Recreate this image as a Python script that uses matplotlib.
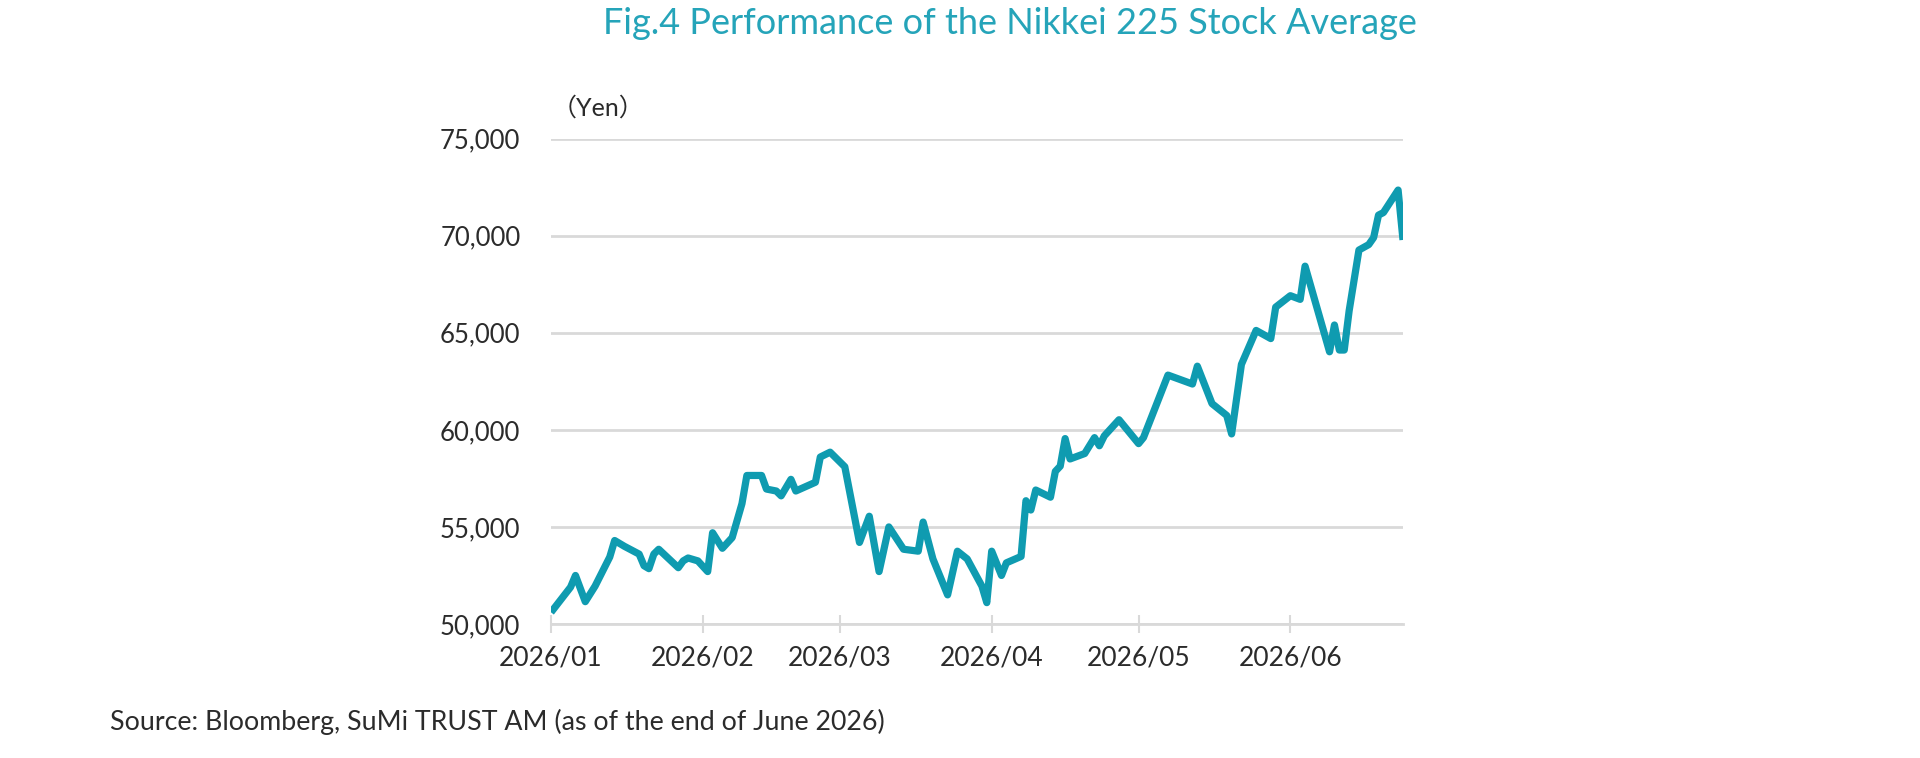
import matplotlib
matplotlib.use("Agg")
import matplotlib.pyplot as plt
import pandas as pd

plt.rcParams['font.family'] = ['Lato', 'Noto Sans CJK JP', 'DejaVu Sans']

# ---------------- data ----------------
dates = [
    "2026-01-01", "2026-01-05", "2026-01-06", "2026-01-08", "2026-01-10",
    "2026-01-13", "2026-01-14", "2026-01-16", "2026-01-19", "2026-01-20",
    "2026-01-21", "2026-01-22", "2026-01-23", "2026-01-27", "2026-01-28",
    "2026-01-29", "2026-01-31", "2026-02-02", "2026-02-03", "2026-02-05",
    "2026-02-07", "2026-02-09", "2026-02-10", "2026-02-13", "2026-02-14",
    "2026-02-16", "2026-02-17", "2026-02-19", "2026-02-20", "2026-02-24",
    "2026-02-25", "2026-02-27", "2026-03-02", "2026-03-05", "2026-03-07",
    "2026-03-09", "2026-03-11", "2026-03-14", "2026-03-17", "2026-03-18",
    "2026-03-20", "2026-03-23", "2026-03-25", "2026-03-27", "2026-03-30",
    "2026-03-31", "2026-04-01", "2026-04-03", "2026-04-04", "2026-04-07",
    "2026-04-08", "2026-04-09", "2026-04-10", "2026-04-13", "2026-04-14",
    "2026-04-15", "2026-04-16", "2026-04-17", "2026-04-20", "2026-04-22",
    "2026-04-23", "2026-04-24", "2026-04-27", "2026-05-01", "2026-05-02",
    "2026-05-07", "2026-05-12", "2026-05-13", "2026-05-16", "2026-05-19",
    "2026-05-20", "2026-05-22", "2026-05-25", "2026-05-28", "2026-05-29",
    "2026-06-01", "2026-06-03", "2026-06-04", "2026-06-09", "2026-06-10",
    "2026-06-11", "2026-06-12", "2026-06-13", "2026-06-15", "2026-06-17",
    "2026-06-18", "2026-06-19", "2026-06-20", "2026-06-23", "2026-06-24",
]
nikkei = [
    50600, 51900, 52500, 51150, 51950,
    53450, 54300, 54000, 53600, 53000,
    52850, 53600, 53850, 52900, 53250,
    53400, 53250, 52700, 54700, 53900,
    54450, 56200, 57650, 57650, 56950,
    56850, 56600, 57450, 56850, 57300,
    58600, 58850, 58100, 54200, 55550,
    52700, 55000, 53850, 53750, 55250,
    53350, 51500, 53750, 53350, 51950,
    51100, 53750, 52500, 53150, 53480,
    56350, 55870, 56900, 56530, 57860,
    58130, 59550, 58500, 58780, 59600,
    59180, 59690, 60520, 59290, 59600,
    62820, 62360, 63280, 61350, 60740,
    59790, 63370, 65120, 64700, 66320,
    66910, 66720, 68430, 64020, 65400,
    64110, 64110, 66130, 69260, 69540,
    69900, 71060, 71190, 72350, 69780,
]
x_tick_dates = ["2026-01-01", "2026-02-01", "2026-03-01",
                "2026-04-01", "2026-05-01", "2026-06-01"]
x_tick_labels = ["2026/01", "2026/02", "2026/03", "2026/04", "2026/05", "2026/06"]
y_ticks = [50000, 55000, 60000, 65000, 70000, 75000]
x_range = ["2026-01-01", "2026-06-24"]

title_text = "Fig.4 Performance of the Nikkei 225 Stock Average"
unit_text = "（Yen）"
source_text = "Source: Bloomberg, SuMi TRUST AM (as of the end of June 2026)"

# ---------------- style ----------------
LINE_COLOR = "#0f9bb0"
TITLE_COLOR = "#25a4b9"
GRID_COLOR = "#d9d9d9"
TEXT_COLOR = "#2b2b2b"

W, H = 1920, 758
fig = plt.figure(figsize=(W / 100, H / 100), dpi=100)
left, right, top, bottom = 551, 1403, 138.6, 624
ax = fig.add_axes([left / W, 1 - bottom / H, (right - left) / W, (bottom - top) / H])

ax.plot(pd.to_datetime(dates), nikkei, color=LINE_COLOR, lw=5.2,
        solid_joinstyle="round", solid_capstyle="butt", zorder=3)

ax.set_xlim(pd.to_datetime(x_range[0]), pd.to_datetime(x_range[1]))
ax.set_ylim(y_ticks[0], y_ticks[-1])

ax.set_yticks(y_ticks)
ax.set_yticklabels([f"{v:,}" for v in y_ticks])
ax.set_xticks(pd.to_datetime(x_tick_dates))
ax.set_xticklabels(x_tick_labels)

ax.yaxis.grid(True, color=GRID_COLOR, lw=2, zorder=0)
ax.set_axisbelow(True)
for s in ["top", "right", "left"]:
    ax.spines[s].set_visible(False)
ax.spines["bottom"].set_color(GRID_COLOR)
ax.spines["bottom"].set_linewidth(2)

ax.tick_params(axis="y", length=0, pad=22, labelsize=18.5, labelcolor=TEXT_COLOR)
ax.tick_params(axis="x", direction="inout", length=13, width=1.5, color=GRID_COLOR,
               pad=9, labelsize=19, labelcolor=TEXT_COLOR)

fig.text(1010 / W, 1 - 24 / H, title_text, ha="center", va="center",
         fontsize=26, color=TITLE_COLOR)
fig.text(552 / W, 1 - 108 / H, unit_text, ha="left", va="center",
         fontsize=18, color=TEXT_COLOR)
fig.text(110 / W, 1 - 722 / H, source_text, ha="left", va="center",
         fontsize=19.3, color=TEXT_COLOR)

fig.savefig("out.png", dpi=100, facecolor="white")
